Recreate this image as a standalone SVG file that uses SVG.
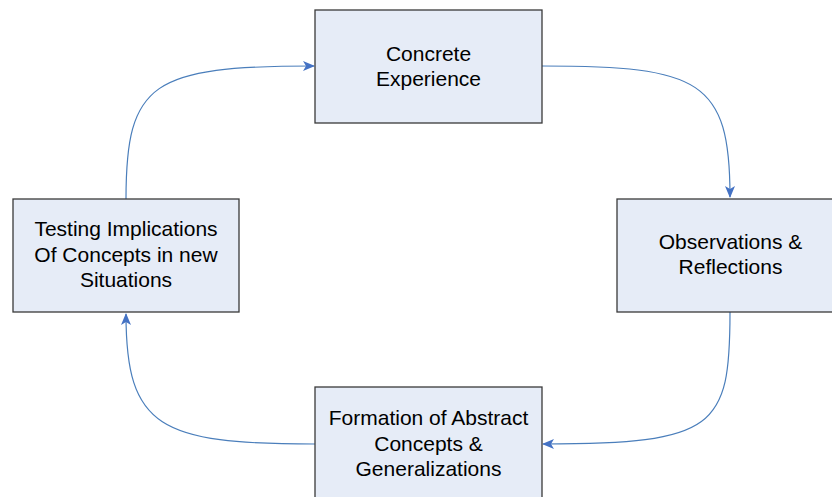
<svg xmlns="http://www.w3.org/2000/svg" width="832" height="497" viewBox="0 0 832 497">
<style>
.box{fill:#E6ECF7;stroke:#3a3a3a;stroke-width:1.3}
.lbl{font-family:"Liberation Sans",Arial,sans-serif;font-size:21px;fill:#000;text-anchor:middle}
.conn{fill:none;stroke:#4A7EBB;stroke-width:1.2}
</style>
<defs>
<marker id="arr" viewBox="0 0 12 12" refX="11" refY="6" markerWidth="12" markerHeight="12" markerUnits="userSpaceOnUse" orient="auto">
<path d="M0,1 L12,6 L0,11 L3,6 Z" fill="#4472C4"/>
</marker>
</defs>
<rect width="832" height="497" fill="#fff"/>
<g id="connectors">
<path class="conn" d="M542,66 C700,66 730,80 730,197" marker-end="url(#arr)"/>
<path class="conn" d="M730,312 C730,428 716,444 543,444" marker-end="url(#arr)"/>
<path class="conn" d="M315,444 C160,444 126,428 126,314" marker-end="url(#arr)"/>
<path class="conn" d="M126,199 C126,82 152,66 314,66" marker-end="url(#arr)"/>
</g>
<g id="concrete">
<rect class="box" x="315" y="10" width="227" height="113"/>
<text class="lbl" x="428.5" y="61">Concrete</text>
<text class="lbl" x="428.5" y="86">Experience</text>
</g>
<g id="observations">
<rect class="box" x="617" y="199" width="227" height="113"/>
<text class="lbl" x="730.5" y="249">Observations &amp;</text>
<text class="lbl" x="730.5" y="274">Reflections</text>
</g>
<g id="formation">
<rect class="box" x="315" y="387" width="227" height="113"/>
<text class="lbl" x="428.5" y="425">Formation of Abstract</text>
<text class="lbl" x="428.5" y="450.5">Concepts &amp;</text>
<text class="lbl" x="428.5" y="476">Generalizations</text>
</g>
<g id="testing">
<rect class="box" x="13" y="199" width="226" height="113"/>
<text class="lbl" x="126" y="235.5">Testing Implications</text>
<text class="lbl" x="126" y="261.5">Of Concepts in new</text>
<text class="lbl" x="126" y="287">Situations</text>
</g>
</svg>
